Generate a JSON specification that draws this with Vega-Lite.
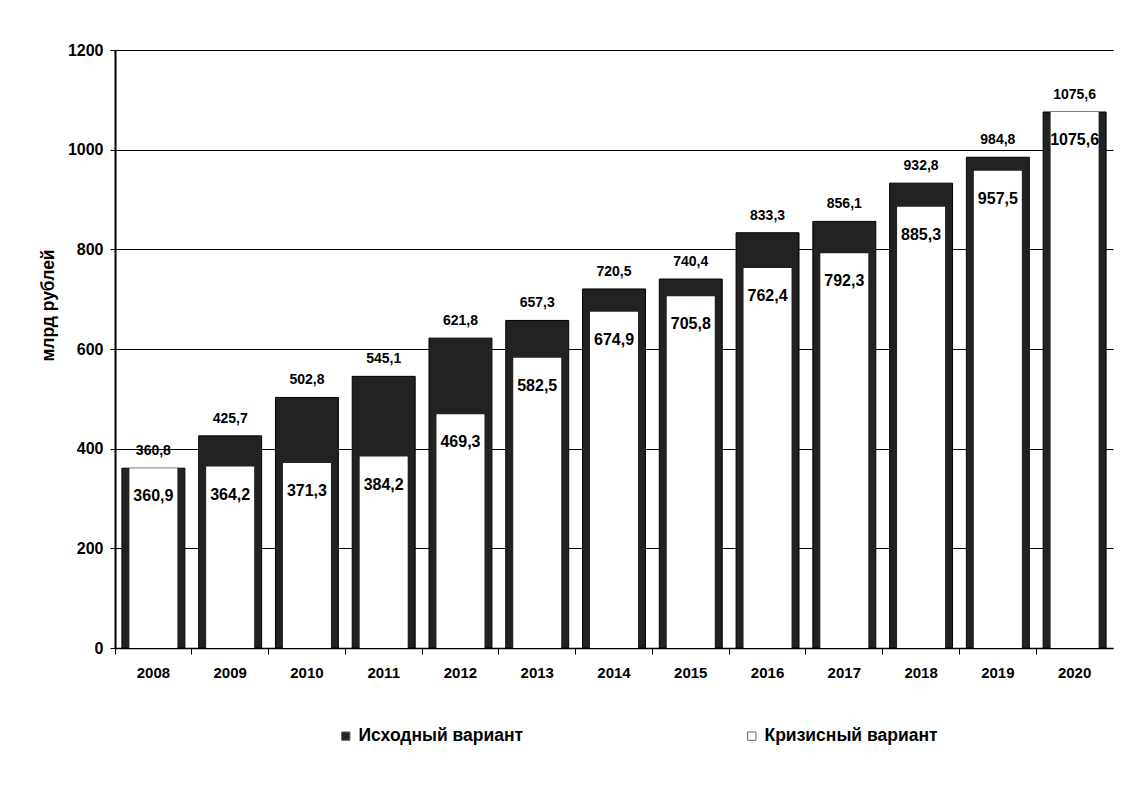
{
  "$schema": "https://vega.github.io/schema/vega-lite/v6.json",
  "width": 998,
  "height": 598,
  "autosize": {"type": "none"},
  "padding": {"left": 115, "top": 50, "right": 24, "bottom": 144},
  "background": "white",
  "config": {
    "locale": {"number": {"decimal": ",", "thousands": "", "grouping": [3], "currency": ["", ""]}},
    "view": {"stroke": null},
    "font": "Liberation Sans"
  },
  "data": {
    "values": [
      {"year": "2008", "series": "Исходный вариант", "value": 360.8},
      {"year": "2009", "series": "Исходный вариант", "value": 425.7},
      {"year": "2010", "series": "Исходный вариант", "value": 502.8},
      {"year": "2011", "series": "Исходный вариант", "value": 545.1},
      {"year": "2012", "series": "Исходный вариант", "value": 621.8},
      {"year": "2013", "series": "Исходный вариант", "value": 657.3},
      {"year": "2014", "series": "Исходный вариант", "value": 720.5},
      {"year": "2015", "series": "Исходный вариант", "value": 740.4},
      {"year": "2016", "series": "Исходный вариант", "value": 833.3},
      {"year": "2017", "series": "Исходный вариант", "value": 856.1},
      {"year": "2018", "series": "Исходный вариант", "value": 932.8},
      {"year": "2019", "series": "Исходный вариант", "value": 984.8},
      {"year": "2020", "series": "Исходный вариант", "value": 1075.6},
      {"year": "2008", "series": "Кризисный вариант", "value": 360.9},
      {"year": "2009", "series": "Кризисный вариант", "value": 364.2},
      {"year": "2010", "series": "Кризисный вариант", "value": 371.3},
      {"year": "2011", "series": "Кризисный вариант", "value": 384.2},
      {"year": "2012", "series": "Кризисный вариант", "value": 469.3},
      {"year": "2013", "series": "Кризисный вариант", "value": 582.5},
      {"year": "2014", "series": "Кризисный вариант", "value": 674.9},
      {"year": "2015", "series": "Кризисный вариант", "value": 705.8},
      {"year": "2016", "series": "Кризисный вариант", "value": 762.4},
      {"year": "2017", "series": "Кризисный вариант", "value": 792.3},
      {"year": "2018", "series": "Кризисный вариант", "value": 885.3},
      {"year": "2019", "series": "Кризисный вариант", "value": 957.5},
      {"year": "2020", "series": "Кризисный вариант", "value": 1075.6}
    ]
  },
  "encoding": {
    "x": {
      "field": "year",
      "type": "ordinal",
      "scale": {"paddingInner": 0, "paddingOuter": 0},
      "axis": {
        "title": null,
        "labelAngle": 0,
        "labelFont": "Liberation Sans",
        "labelFontSize": 15,
        "labelFontWeight": "bold",
        "labelColor": "#000",
        "domainColor": "#000",
        "domainWidth": 1.5,
        "tickColor": "#000",
        "tickSize": 6,
        "tickWidth": 1,
        "bandPosition": 0,
        "labelPadding": 11,
        "grid": false
      }
    },
    "y": {
      "field": "value",
      "type": "quantitative",
      "scale": {"domain": [0, 1200], "nice": false},
      "axis": {
        "title": "млрд рублей",
        "titleFont": "Liberation Sans",
        "titleFontSize": 17.5,
        "titleFontWeight": "bold",
        "titleColor": "#000",
        "titlePadding": 10,
        "titleY": 255,
        "values": [0, 200, 400, 600, 800, 1000, 1200],
        "format": "d",
        "labelFont": "Liberation Sans",
        "labelFontSize": 16,
        "labelFontWeight": "bold",
        "labelColor": "#000",
        "labelPadding": 7,
        "tickSize": 5,
        "tickColor": "#000",
        "domainColor": "#000",
        "domainWidth": 2,
        "grid": true,
        "gridColor": "#000",
        "gridWidth": 1
      }
    }
  },
  "layer": [
    {
      "transform": [{"filter": "datum.series === 'Исходный вариант'"}],
      "mark": {"type": "bar", "width": {"band": 0.82}, "stroke": "#000", "strokeWidth": 1},
      "encoding": {
        "color": {
          "field": "series",
          "type": "nominal",
          "scale": {"domain": ["Исходный вариант", "Кризисный вариант"], "range": ["#222222", "#ffffff"]},
          "legend": {
            "title": null,
            "orient": "none",
            "legendX": 222,
            "legendY": 677,
            "direction": "horizontal",
            "columnPadding": 219,
            "symbolType": "square",
            "symbolSize": 70,
            "symbolStrokeColor": "#666",
            "symbolStrokeWidth": 1,
            "labelLimit": 400,
            "labelFont": "Liberation Sans",
            "labelFontSize": 17.5,
            "labelFontWeight": "bold",
            "labelColor": "#000"
          }
        }
      }
    },
    {
      "transform": [{"filter": "datum.series === 'Кризисный вариант'"}],
      "mark": {"type": "bar", "width": {"band": 0.625}},
      "encoding": {
        "color": {"field": "series", "type": "nominal"}
      }
    },
    {
      "transform": [{"filter": "datum.series === 'Исходный вариант'"}],
      "mark": {"type": "text", "dy": -17, "baseline": "middle", "font": "Liberation Sans", "fontSize": 14, "fontWeight": "bold", "color": "#000"},
      "encoding": {
        "text": {"field": "value", "type": "quantitative", "format": ".1f"}
      }
    },
    {
      "transform": [{"filter": "datum.series === 'Кризисный вариант'"}],
      "mark": {"type": "text", "dy": 28, "baseline": "middle", "font": "Liberation Sans", "fontSize": 16, "fontWeight": "bold", "color": "#000"},
      "encoding": {
        "text": {"field": "value", "type": "quantitative", "format": ".1f"}
      }
    }
  ]
}
